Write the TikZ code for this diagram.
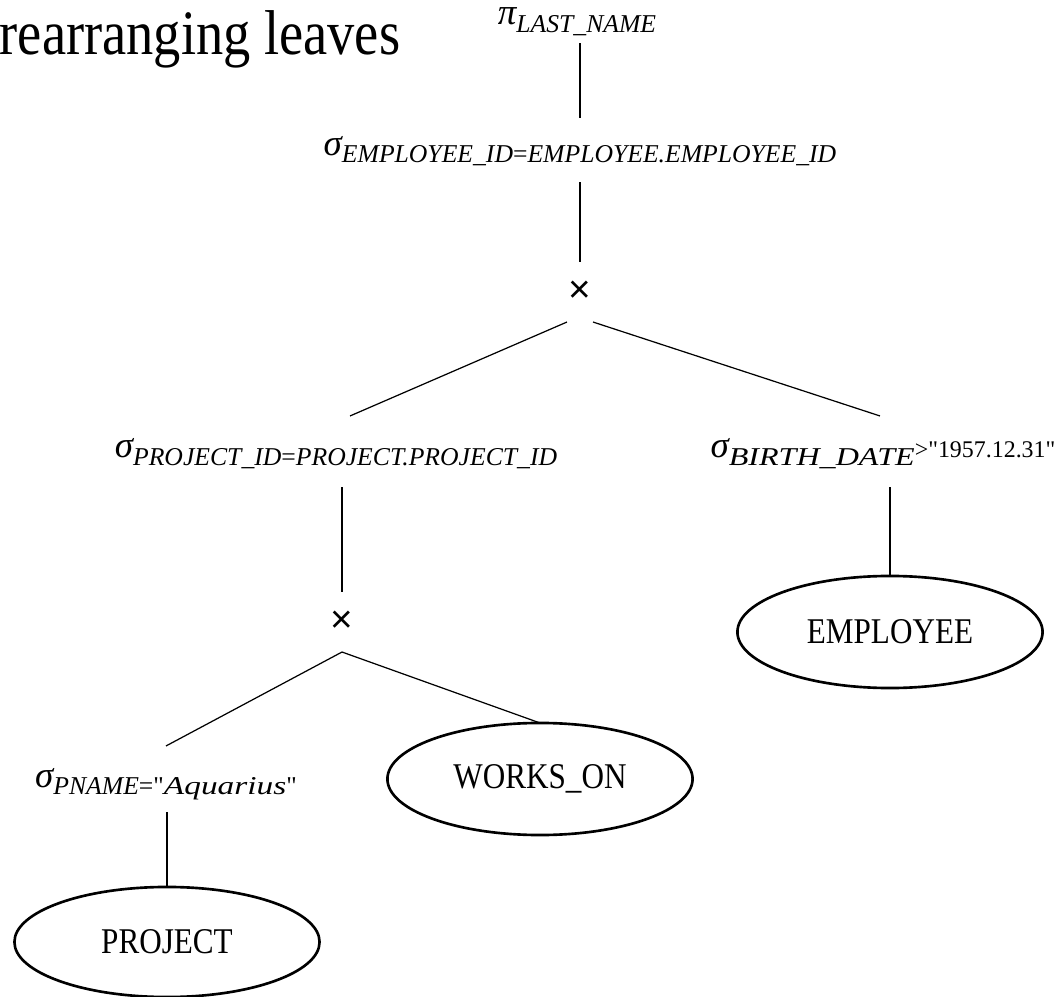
\documentclass[tikz,border=0pt]{standalone}
\usepackage{fontspec}
\usepackage{graphicx}
\setmainfont{Liberation Serif}[Ligatures=TeXOff]
\newfontfamily\narrowserif[FakeStretch=0.86]{Liberation Serif}
\newfontfamily\crossfont{Liberation Sans}
\usetikzlibrary{shapes.geometric,calc}

% operator symbol, its lowered subscript, and an upright comparison value
\newcommand\opsym[1]{{\fontsize{10.5}{12}\selectfont\itshape #1}}
\newcommand\opsub[1]{\raisebox{-0.7mm}{\fontsize{7.3}{9}\selectfont\itshape #1}}
\newcommand\opval[1]{{\fontsize{6.8}{8}\selectfont #1}}
\newcommand\wide[1]{\scalebox{1.25}[1]{#1}}

\tikzset{
  edge/.style={line width=0.35pt},
  relation/.style={ellipse, draw, line width=0.75pt,
    minimum width=3.05cm, minimum height=1.12cm,
    inner sep=0pt, outer sep=0pt,
    font=\narrowserif\fontsize{10.3}{12}\selectfont},
  operator/.style={inner sep=0pt, outer sep=0pt, anchor=base},
  product/.style={inner sep=0pt, outer sep=0pt,
    minimum width=0.26cm, minimum height=0.6cm,
    font=\crossfont\fontsize{11}{12}\selectfont},
  heading/.style={inner sep=0pt, anchor=base west,
    font=\narrowserif\fontsize{18}{20}\selectfont},
}

\begin{document}
\begin{tikzpicture}[x=0.01cm, y=-0.01cm]
  \fill[white] (0,0) rectangle (1063,997);
  \useasboundingbox (0,0) rectangle (1063,997);

  \node[heading] (title) at (-1,55) {rearranging leaves};

  % operators
  \node[operator, text height=0.13cm, text depth=0.18cm] (proj) at (577,25)
    {\opsym{π}\opsub{LAST\_NAME}};
  \node[operator, text height=0.38cm, text depth=0.26cm] (selemp) at (580,156)
    {\opsym{σ}\opsub{EMPLOYEE\_ID{\upshape=}EMPLOYEE.EMPLOYEE\_ID}};
  \node[product] (x1) at (580,292) {×};
  \node[operator, text height=0.42cm, text depth=0.29cm] (selproj) at (336,458)
    {\opsym{σ}\opsub{PROJECT\_ID{\upshape=}PROJECT.PROJECT\_ID}};
  \node[operator, text height=0.42cm, text depth=0.29cm] (selbirth) at (883,458)
    {\opsym{σ}\opsub{\wide{BIRTH\_DATE}}\opval{>"1957.12.31"}};
  \node[product] (x2) at (342,622) {×};
  \node[operator, text height=0.41cm, text depth=0.25cm] (selpname) at (166,787)
    {\opsym{σ}\opsub{PNAME{\upshape="}\scalebox{1.3}[1]{Aquarius}{\upshape"}}};

  % relations
  \node[relation] (employee) at (890,632) {EMPLOYEE};
  \node[relation] (works) at (540,779) {WORKS\_ON};
  \node[relation, minimum height=1.10cm] (project) at (167,942) {PROJECT};

  % tree edges
  \draw[edge] (proj.south -| selemp.north) -- (selemp.north);
  \draw[edge] (selemp.south) -- (x1.north);
  \draw[edge] (x1.south west) -- ($(selproj.north)+(14,0)$);
  \draw[edge] (x1.south east) -- ($(selbirth.north)+(-3,0)$);
  \draw[edge] (selproj.south -| x2.north) -- (x2.north);
  \draw[edge] (employee.north |- selbirth.south) -- (employee.north);
  \draw[edge] (x2.south) -- (selpname.north);
  \draw[edge] (x2.south) -- (works.north);
  \draw[edge] (project.north |- selpname.south) -- (project.north);
\end{tikzpicture}
\end{document}
